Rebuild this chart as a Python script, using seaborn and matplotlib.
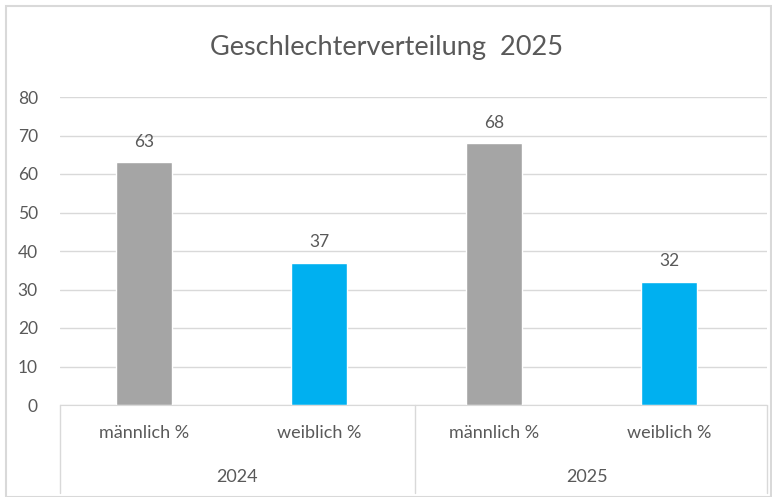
import matplotlib
matplotlib.use("Agg")
import matplotlib.pyplot as plt
import seaborn as sns
import pandas as pd
from matplotlib.lines import Line2D
from matplotlib.patches import Rectangle

# chart data
years = ["2024", "2024", "2025", "2025"]
genders = ["männlich %", "weiblich %", "männlich %", "weiblich %"]
values = [63, 37, 68, 32]
title = "Geschlechterverteilung  2025"

colors = {"männlich %": "#A5A5A5", "weiblich %": "#00B0F0"}
text_color = "#595959"

sns.set_style("white")
plt.rcParams["font.family"] = ["Lato", "DejaVu Sans"]

df = pd.DataFrame({"year": years, "gender": genders, "value": values})
df["slot"] = [f"{y}\n{g}" for y, g in zip(years, genders)]

fig = plt.figure(figsize=(7.72, 4.97), dpi=100)
W, H = 772, 497
ax = fig.add_axes([60 / W, (H - 405) / H, (767 - 60) / W, (405 - 97) / H])

sns.barplot(data=df, x="slot", y="value", hue="gender", palette=colors,
            order=list(df["slot"]), dodge=False, width=0.32, ax=ax,
            legend=False, saturation=1)

ax.set_ylim(0, 80)
ax.set_yticks(range(0, 81, 10))
ax.yaxis.grid(True, color="#D9D9D9", linewidth=1)
ax.set_axisbelow(True)
for side in ["top", "right", "left"]:
    ax.spines[side].set_visible(False)
ax.spines["bottom"].set_color("#D9D9D9")
ax.tick_params(axis="y", length=0, labelsize=12.5, labelcolor=text_color, pad=16)
ax.set_xticks([])
ax.set_xlabel("")
ax.set_ylabel("")
ax.set_xlim(-0.48, len(values) - 0.44)

# value labels
for container in ax.containers:
    ax.bar_label(container, fmt="%d", padding=9, fontsize=12.5, color=text_color)

# two-level category axis
trans = ax.get_xaxis_transform()
for i, g in enumerate(genders):
    ax.text(i, -0.09, g, transform=trans, ha="center", va="center",
            fontsize=13, color=text_color)
for j, y in enumerate(["2024", "2025"]):
    ax.text(2 * j + 0.53, -0.235, y, transform=trans, ha="center", va="center",
            fontsize=13, color=text_color)
for xpos in [-0.48, 1.55, 3.56]:
    ax.add_line(Line2D([xpos, xpos], [0, -0.285], transform=trans,
                       color="#D9D9D9", linewidth=1, clip_on=False))

fig.text(0.5, 1 - 47 / H, title, ha="center", va="center", fontsize=19.5,
         color=text_color)

# chart border
fig.add_artist(Rectangle((6 / W, 0), 1 - 7 / W, 1 - 6 / H, transform=fig.transFigure,
                         fill=False, edgecolor="#D9D9D9", linewidth=1.5))

fig.savefig("out.png", dpi=100, facecolor="white")
